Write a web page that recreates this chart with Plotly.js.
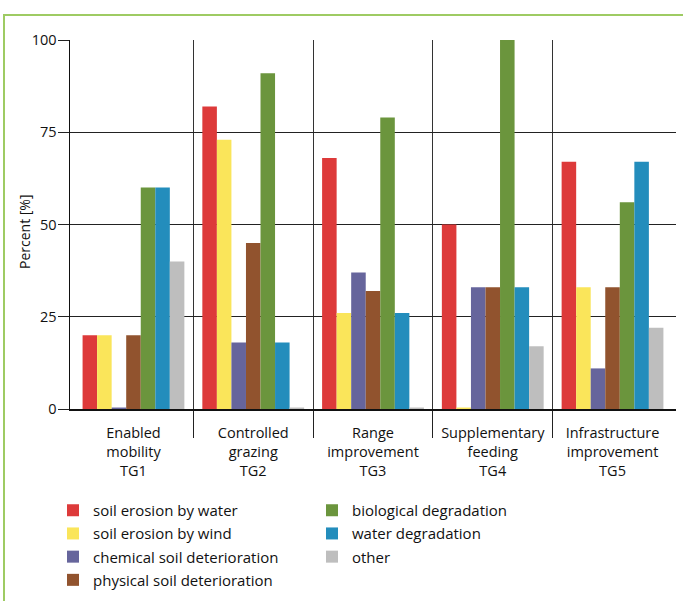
<!DOCTYPE html>
<html>
<head>
<meta charset="utf-8">
<script src="https://cdn.plot.ly/plotly-3.0.1.min.js"></script>
<style>
  html, body { margin: 0; padding: 0; background: #fff; overflow: hidden; }
  #chart { position: absolute; left: 0; top: 0; width: 683px; height: 601px; }
  #frame { position: absolute; left: 3px; top: 14px; width: 680px; height: 587px;
           border-top: 2px solid #9ecb63; border-left: 2px solid #9ecb63; pointer-events: none; }
</style>
</head>
<body>
<div id="chart"></div>
<div id="frame"></div>
<script>
const categories = [
  "Enabled<br>mobility<br>TG1",
  "Controlled<br>grazing<br>TG2",
  "Range<br>improvement<br>TG3",
  "Supplementary<br>feeding<br>TG4",
  "Infrastructure<br>improvement<br>TG5"
];
const seriesNames = [
  "soil erosion by water",
  "soil erosion by wind",
  "chemical soil deterioration",
  "physical soil deterioration",
  "biological degradation",
  "water degradation",
  "other"
];
const soilErosionWater   = [20, 82, 68, 50, 67];
const soilErosionWind    = [20, 73, 26, 0.4, 33];
const chemicalSoil       = [0.4, 18, 37, 33, 11];
const physicalSoil       = [20, 45, 32, 33, 33];
const biologicalDeg      = [60, 91, 79, 100, 56];
const waterDeg           = [60, 18, 26, 33, 67];
const otherDeg           = [40, 0.4, 0.4, 17, 22];
const yTicks = [0, 25, 50, 75, 100];
const yTitle = "Percent [%]";

const seriesValues = [soilErosionWater, soilErosionWind, chemicalSoil, physicalSoil, biologicalDeg, waterDeg, otherDeg];
const colors = ["#dd3a3a", "#fae55a", "#66659c", "#91532e", "#6b953d", "#238dbc", "#bebebe"];
const legendOf = ["legend", "legend", "legend", "legend", "legend2", "legend2", "legend2"];
// boundaries between the category groups (category index space)
const groupBoundaries = categories.slice(1).map((_, i) => i + 0.5);

const FONT = "'Open Sans', 'Noto Sans', sans-serif";

const traces = seriesNames.map((name, i) => ({
  type: "bar",
  name: name,
  x: categories,
  y: seriesValues[i],
  marker: { color: colors[i], line: { width: 0 } },
  legend: legendOf[i],
  legendgroup: "g" + i,
  hoverinfo: "none"
}));

const legendCommon = {
  xref: "paper", yref: "paper",
  xanchor: "left", yanchor: "top",
  orientation: "v",
  font: { family: FONT, size: 15, color: "#111" },
  bgcolor: "rgba(0,0,0,0)",
  borderwidth: 0,
  tracegroupgap: 0.7,
  itemclick: false, itemdoubleclick: false
};

const layout = {
  width: 683, height: 601,
  margin: { l: 70, r: 7, t: 40, b: 192, autoexpand: false },
  paper_bgcolor: "#fff", plot_bgcolor: "#fff",
  font: { family: FONT, color: "#111" },
  barmode: "group",
  bargap: 0.15,
  bargroupgap: 0,
  showlegend: true,
  xaxis: {
    type: "category",
    range: [-0.53, 4.53],
    ticks: "",
    ticklabelstandoff: 10,
    tickangle: 0,
    automargin: false,
    showgrid: false,
    minor: {
      tickmode: "array",
      tickvals: groupBoundaries,
      ticks: "outside",
      ticklen: 27,
      tickwidth: 1,
      tickcolor: "#222",
      showgrid: true,
      gridcolor: "#333",
      gridwidth: 1
    },
    showline: true,
    linecolor: "#111",
    linewidth: 1.5,
    tickfont: { family: FONT, size: 14.5, color: "#111" },
    fixedrange: true
  },
  yaxis: {
    range: [0, 100],
    tickvals: yTicks,
    ticktext: yTicks.map(String),
    ticks: "outside",
    ticklen: 11,
    tickwidth: 1,
    tickcolor: "#222",
    ticklabelstandoff: -2,
    automargin: false,
    showgrid: true,
    gridcolor: "#222",
    gridwidth: 1.3,
    zeroline: false,
    showline: true,
    linecolor: "#111",
    linewidth: 1.5,
    tickfont: { family: FONT, size: 14.5, color: "#111" },
    fixedrange: true
  },
  annotations: [{
    text: yTitle, textangle: -90, showarrow: false,
    xref: "paper", yref: "paper", x: -45 / 606, y: 177 / 369,
    xanchor: "center", yanchor: "middle",
    font: { family: FONT, size: 14, color: "#111" }
  }],
  legend: Object.assign({}, legendCommon, { x: -17 / 606, y: -85 / 369 }),
  legend2: Object.assign({}, legendCommon, { x: 242 / 606, y: -85 / 369 })
};

Plotly.newPlot("chart", traces, layout, { displayModeBar: false, staticPlot: true });
</script>
</body>
</html>
